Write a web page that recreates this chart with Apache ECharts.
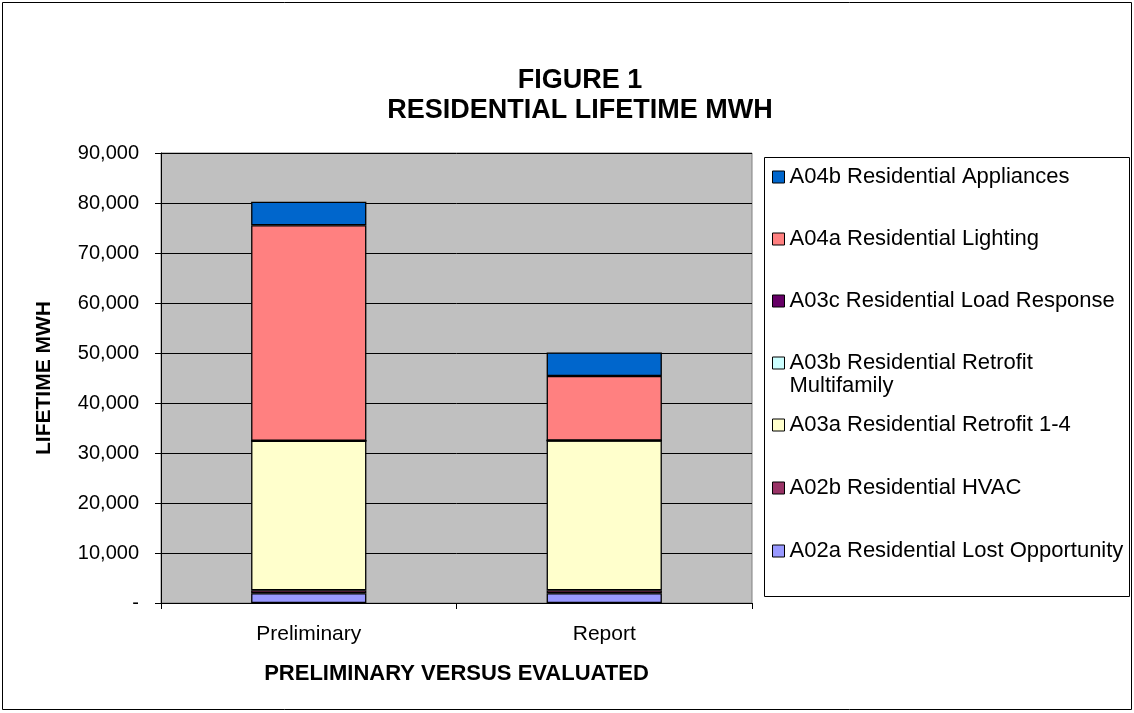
<!DOCTYPE html>
<html>
<head>
<meta charset="utf-8">
<script src="https://cdn.jsdelivr.net/npm/echarts@6/dist/echarts.min.js"></script>
<style>
  html, body { margin: 0; padding: 0; background: #fff; }
  #chart { width: 1134px; height: 713px; }
</style>
</head>
<body>
<div id="chart"></div>
<script>
// categories and series, bottom of the stack first
const categories = ['Preliminary', 'Report'];
const seriesNames = [
    'A02a Residential Lost Opportunity',
    'A02b Residential HVAC',
    'A03a Residential Retrofit 1-4',
    'A03b Residential Retrofit Multifamily',
    'A03c Residential Load Response',
    'A04a Residential Lighting',
    'A04b Residential Appliances',
];
const lostOpportunity = [1950, 1950];
const hvac = [600, 600];
const retrofit14 = [29900, 29950];
const retrofitMulti = [0, 0];
const loadResponse = [0, 0];
const lighting = [43100, 12900];
const appliances = [4700, 4700];
const yTicks = [0, 10000, 20000, 30000, 40000, 50000, 60000, 70000, 80000, 90000];

const values = [lostOpportunity, hvac, retrofit14, retrofitMulti, loadResponse, lighting, appliances];
const colors = ['#9999FF', '#993366', '#FFFFCC', '#CCFFFF', '#660066', '#FF8080', '#0066CC'];

const font = 'Liberation Sans, Arial, sans-serif';

var chart = echarts.init(document.getElementById('chart'));

// legend: one component per entry so the spacing follows the original box
const legendCenters = [177, 239, 301, 363, 425, 488, 551];
const legendOrder = [6, 5, 4, 3, 2, 1, 0];
const legends = legendOrder.map((si, i) => {
    const multi = si === 3;
    return {
        data: [seriesNames[si]],
        orient: 'vertical',
        left: 772,
        top: multi ? legendCenters[i] - 34.5 : legendCenters[i] - 11.5,
        padding: 0,
        itemWidth: 12,
        itemHeight: 12,
        itemGap: 0,
        icon: 'rect',
        selectedMode: false,
        itemStyle: { borderColor: '#000', borderWidth: 1 },
        // blank first line keeps the icon beside the first line of the wrapped name
        formatter: multi ? () => '\nA03b Residential Retrofit\nMultifamily' : undefined,
        textStyle: {
            fontFamily: font,
            fontSize: 22,
            color: '#000',
            lineHeight: 23,
        },
    };
});

chart.setOption({
    animation: false,
    title: {
        text: 'FIGURE 1\nRESIDENTIAL LIFETIME MWH',
        left: 575,
        top: 61,
        textAlign: 'center',
        textStyle: {
            fontFamily: font,
            fontSize: 27,
            fontWeight: 'bold',
            color: '#000',
            lineHeight: 30,
        },
    },
    legend: legends,
    graphic: [
        {
            type: 'rect',
            shape: { x: 2.5, y: 2.5, width: 1129, height: 707 },
            style: { fill: null, stroke: '#000', lineWidth: 1 },
            silent: true,
        },
        {
            type: 'rect',
            shape: { x: 764.5, y: 157.5, width: 365, height: 439 },
            style: { fill: null, stroke: '#000', lineWidth: 1 },
            silent: true,
        },
    ],
    grid: {
        left: 161,
        right: 382,
        top: 153,
        bottom: 110,
        show: true,
        backgroundColor: '#C0C0C0',
        borderColor: '#808080',
        borderWidth: 1,
    },
    xAxis: {
        type: 'category',
        data: categories,
        name: 'PRELIMINARY VERSUS EVALUATED',
        nameLocation: 'middle',
        nameGap: 60,
        nameTextStyle: { fontFamily: font, fontSize: 22, fontWeight: 'bold', color: '#000' },
        axisLine: { lineStyle: { color: '#000', width: 1 } },
        axisTick: { show: true, length: 6, lineStyle: { color: '#000' } },
        axisLabel: { fontFamily: font, fontSize: 21, color: '#000', margin: 21 },
    },
    yAxis: {
        type: 'value',
        min: yTicks[0],
        max: yTicks[yTicks.length - 1],
        interval: yTicks[1] - yTicks[0],
        name: 'LIFETIME MWH',
        nameLocation: 'middle',
        nameGap: 106,
        nameTextStyle: { fontFamily: font, fontSize: 21, fontWeight: 'bold', color: '#000' },
        axisLine: { show: true, lineStyle: { color: '#000', width: 1 } },
        axisTick: { show: true, length: 6, lineStyle: { color: '#000' } },
        splitLine: { show: true, lineStyle: { color: '#000', width: 1 } },
        axisLabel: {
            fontFamily: font,
            fontSize: 20,
            color: '#000',
            margin: 22,
            formatter: v => (v === 0 ? '-' : v.toLocaleString('en-US')),
        },
    },
    series: seriesNames.map((name, i) => ({
        name: name,
        type: 'bar',
        stack: 'total',
        barWidth: '39%',
        data: values[i],
        itemStyle: { color: colors[i], borderColor: '#000', borderWidth: 1.3 },
        emphasis: { disabled: true },
    })),
});
</script>
</body>
</html>
